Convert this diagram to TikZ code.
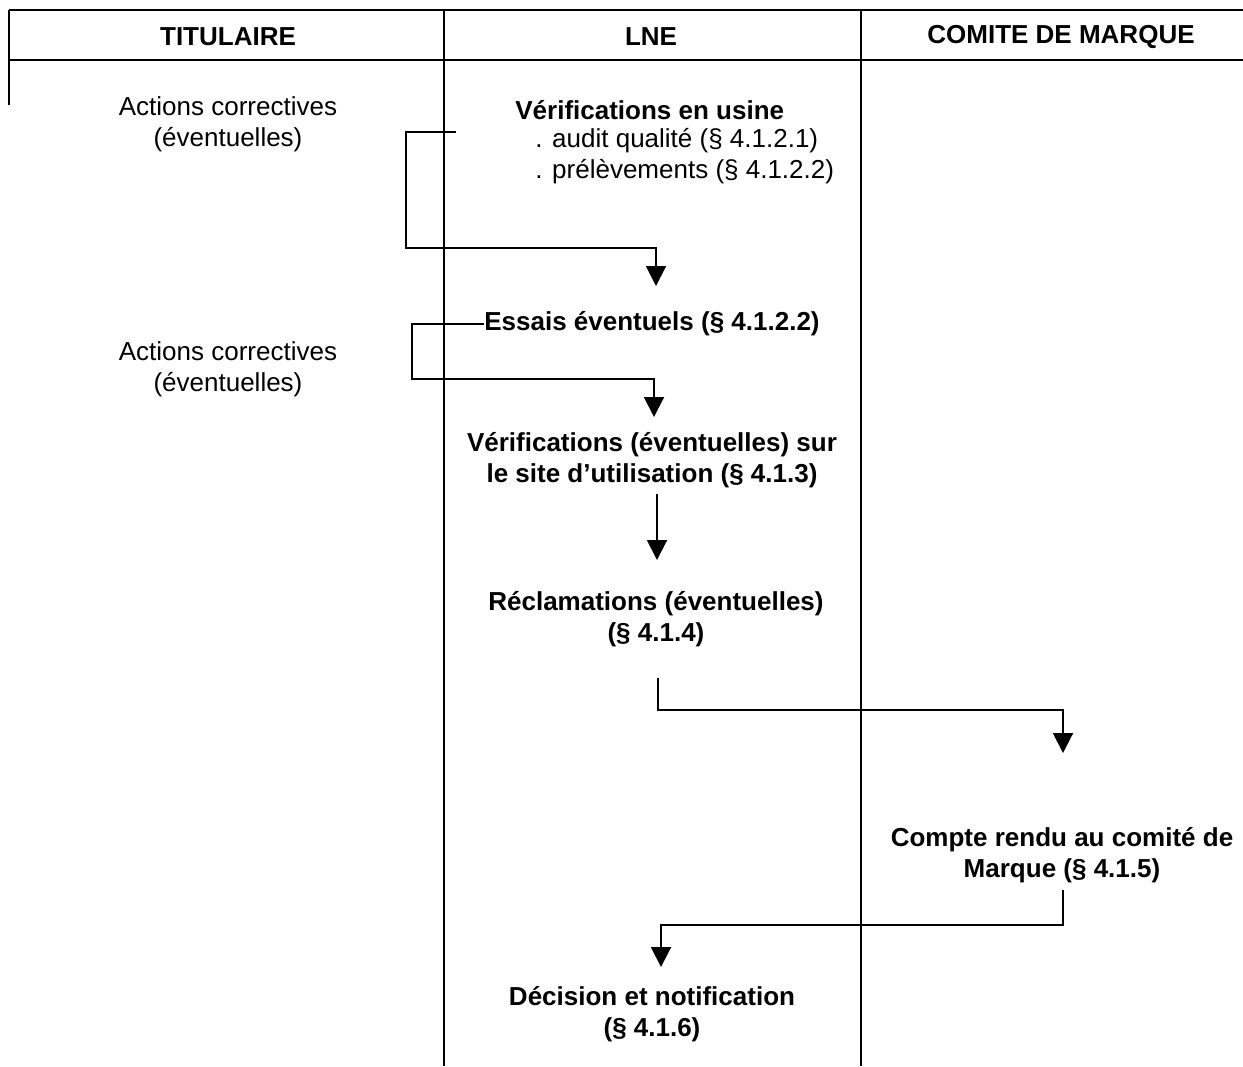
\documentclass[tikz,border=0pt]{standalone}
\usepackage{fontspec}
\setmainfont{Liberation Sans}
\usetikzlibrary{arrows.meta}

\begin{document}
\begin{tikzpicture}[x=0.02cm,y=-0.02cm,
        every node/.style={font=\fontsize{14.8}{17.6}\selectfont,inner sep=0pt},
        titre/.style={font=\fontsize{14.8}{17.6}\selectfont\bfseries},
        etape/.style={font=\fontsize{14.8}{17.6}\selectfont\bfseries,align=center},
        remarque/.style={align=center},
        trait/.style={line width=1.1pt},
        fleche/.style={line width=1.1pt,-{Triangle[length=0.4cm,width=0.4cm]}},
        grille/.style={line width=0.6pt}]
        \useasboundingbox (0,0) rectangle (1243,1066);
        % tableau
        \draw[trait] (9,10) -- (1243,10);
        \draw[trait] (9,60) -- (1243,60);
        \draw[grille] (9,10) -- (9,105);
        \draw[grille] (444,10) -- (444,1066);
        \draw[grille] (861,10) -- (861,1066);
        % en-tetes
        \node[titre] (titulaire) at (228,37) {TITULAIRE};
        \node[titre] (lne) at (651,37) {LNE};
        \node[titre] (comite) at (1061,37) {COMITE DE MARQUE};
        % colonne titulaire
        \node[remarque] (actions1) at (228,124) {Actions correctives\\(éventuelles)};
        \node[remarque] (actions2) at (228,369) {Actions correctives\\(éventuelles)};
        % colonne LNE
        \node[titre,anchor=west] (usine) at (515,110) {Vérifications en usine};
        \node[align=left,anchor=west] (controles) at (535,156) {. audit qualité (§ 4.1.2.1)\\. prélèvements (§ 4.1.2.2)};
        \node[titre] (essais) at (652,324) {Essais éventuels (§ 4.1.2.2)};
        \node[etape] (site) at (652,460) {Vérifications (éventuelles) sur\\le site d’utilisation (§ 4.1.3)};
        \node[etape] (reclam) at (656,619) {Réclamations (éventuelles)\\(§ 4.1.4)};
        \node[etape] (decision) at (652,1014) {Décision et notification\\(§ 4.1.6)};
        % colonne comite
        \node[etape] (compte) at (1062,855) {Compte rendu au comité de\\Marque (§ 4.1.5)};
        % liaisons
        \coordinate (retour1) at (456,132);
        \coordinate (coin1) at (656,248);
        \coordinate (pointe1) at (656,286);
        \coordinate (coin2) at (654,379);
        \coordinate (pointe2) at (654,417);
        \coordinate (depart3) at (657,494);
        \coordinate (pointe3) at (657,560);
        \coordinate (depart4) at (658,678);
        \coordinate (pointe4) at (1063,753);
        \coordinate (depart5) at (1063,890);
        \coordinate (pointe5) at (661,967);
        \draw[fleche] (retour1) -- ++(-50,0) |- (coin1) -- (pointe1);
        \draw[fleche] (essais.west) -- (412,0 |- essais.west) |- (coin2) -- (pointe2);
        \draw[fleche] (depart3) -- (pointe3);
        \draw[fleche] (depart4) -- ++(0,32) -| (pointe4);
        \draw[fleche] (depart5) -- ++(0,35) -| (pointe5);
\end{tikzpicture}
\end{document}
